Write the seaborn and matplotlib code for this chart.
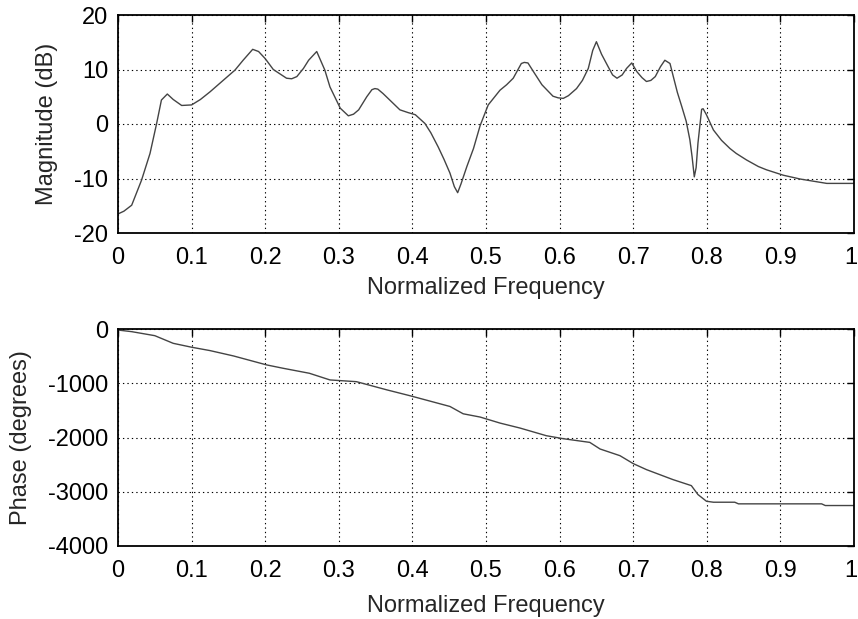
import numpy as np
import pandas as pd
import matplotlib
matplotlib.use("Agg")
import matplotlib.pyplot as plt
import matplotlib.transforms as mtransforms
import seaborn as sns

# ---- data ----
mag_freq = [0.0, 0.008, 0.0186, 0.032, 0.0435, 0.0525, 0.059, 0.067, 0.075, 0.0865, 0.1,
            0.112, 0.125, 0.159, 0.170, 0.183, 0.191, 0.200, 0.211, 0.229, 0.236, 0.243,
            0.252, 0.259, 0.270, 0.281, 0.288, 0.302, 0.313, 0.320, 0.327, 0.338, 0.345,
            0.349, 0.353, 0.360, 0.370, 0.383, 0.394, 0.404, 0.417, 0.425, 0.435, 0.443,
            0.451, 0.457, 0.4615, 0.466, 0.474, 0.483, 0.492, 0.503, 0.519, 0.528, 0.537,
            0.548, 0.552, 0.557, 0.565, 0.576, 0.591, 0.598, 0.605, 0.612, 0.623, 0.631,
            0.639, 0.645, 0.650, 0.657, 0.666, 0.672, 0.678, 0.685, 0.691, 0.698, 0.705,
            0.712, 0.718, 0.724, 0.730, 0.737, 0.743, 0.750, 0.7545, 0.760, 0.766, 0.772,
            0.777, 0.780, 0.783, 0.7855, 0.788, 0.793, 0.795, 0.7995, 0.809, 0.820, 0.8315,
            0.840, 0.854, 0.870, 0.881, 0.904, 0.927, 0.945, 0.963, 0.980, 1.0]
mag_db = [-16.5, -16.0, -14.9, -10.3, -5.4, 0.1, 4.4, 5.5, 4.5, 3.4, 3.5,
          4.5, 5.9, 9.9, 11.7, 13.7, 13.3, 12.0, 10.0, 8.4, 8.3, 8.7,
          10.2, 11.7, 13.3, 9.9, 6.8, 2.9, 1.5, 1.8, 2.6, 5.0, 6.3,
          6.5, 6.4, 5.6, 4.3, 2.6, 2.1, 1.7, 0.1, -1.6, -4.2, -6.5,
          -9.0, -11.5, -12.6, -11.0, -7.8, -4.5, -0.3, 3.5, 6.2, 7.2, 8.4,
          11.1, 11.3, 11.2, 9.5, 7.2, 5.1, 4.8, 4.7, 5.2, 6.5, 8.0,
          10.2, 13.5, 15.1, 12.8, 10.5, 9.0, 8.4, 9.0, 10.2, 11.2, 9.6,
          8.5, 7.8, 8.0, 8.7, 10.5, 11.7, 11.1, 8.7, 5.8, 3.2, 0.5,
          -2.9, -6.0, -9.7, -8.0, -3.5, 2.7, 2.8, 1.7, -1.1, -3.0, -4.5,
          -5.4, -6.6, -7.8, -8.4, -9.4, -10.1, -10.5, -10.9, -10.9, -10.9]

ph_freq = [0.0, 0.0186, 0.05, 0.075, 0.1, 0.125, 0.157, 0.202, 0.224, 0.260,
           0.288, 0.324, 0.365, 0.397, 0.451, 0.469, 0.492, 0.519, 0.546, 0.582,
           0.605, 0.641, 0.655, 0.682, 0.700, 0.718, 0.754, 0.779, 0.788, 0.7995,
           0.809, 0.838, 0.843, 0.956, 0.961, 1.0]
ph_deg = [-19, -49, -123, -264, -336, -398, -497, -662, -723, -816,
          -939, -971, -1121, -1231, -1428, -1563, -1623, -1734, -1825, -1967,
          -2022, -2090, -2212, -2335, -2481, -2592, -2776, -2887, -3052, -3175,
          -3193, -3193, -3223, -3223, -3254, -3254]

xticks = [0, 0.1, 0.2, 0.3, 0.4, 0.5, 0.6, 0.7, 0.8, 0.9, 1]
xticklabels = ["0", "0.1", "0.2", "0.3", "0.4", "0.5", "0.6", "0.7", "0.8", "0.9", "1"]
mag_ticks = [-20, -10, 0, 10, 20]
ph_ticks = [-4000, -3000, -2000, -1000, 0]

sns.set_style("white")
plt.rcParams['font.family'] = ['Liberation Sans', 'DejaVu Sans']
FS = 17

fig = plt.figure(figsize=(8.58, 6.19), dpi=100)
W, H = 858, 619
def axrect(l, t, r, b):
    return [l / W, 1 - b / H, (r - l) / W, (b - t) / H]

ax1 = fig.add_axes(axrect(118, 15, 854, 233))
ax2 = fig.add_axes(axrect(118, 329, 854, 546))

df_mag = pd.DataFrame({"f": mag_freq, "m": mag_db})
df_ph = pd.DataFrame({"f": ph_freq, "p": ph_deg})

sns.lineplot(data=df_mag, x="f", y="m", ax=ax1, color="#444444", linewidth=1.0)
sns.lineplot(data=df_ph, x="f", y="p", ax=ax2, color="#444444", linewidth=1.0)

shift = mtransforms.ScaledTranslation(-3 / 100, 0, fig.dpi_scale_trans)

for ax, yt, ylab, lx, xly in [(ax1, mag_ticks, "Magnitude (dB)", 58, -0.2),
                              (ax2, ph_ticks, "Phase (degrees)", 32, -0.224)]:
    ax.set_xlim(0, 1)
    ax.set_ylim(yt[0], yt[-1])
    ax.set_xticks(xticks)
    ax.set_xticklabels(xticklabels)
    ax.set_yticks(yt)
    ax.set_yticklabels([str(v) for v in yt])
    ax.grid(True, color="black", linestyle=(0, (1.2, 2.8)), linewidth=0.8)
    ax.tick_params(direction="in", length=5, width=1, top=True, right=True,
                   labelsize=FS, colors="black")
    ax.tick_params(axis="y", pad=7)
    ax.tick_params(axis="x", pad=10)
    for s in ax.spines.values():
        s.set_visible(True)
        s.set_color("black")
        s.set_linewidth(1.3)
    ax.set_xlabel("Normalized Frequency", fontsize=FS)
    ax.set_ylabel(ylab, fontsize=FS)
    ax.yaxis.set_label_coords((lx - 118) / 736, 0.5)
    ax.xaxis.set_label_coords(0.5, xly)
    lab = ax.get_xticklabels()[-1]
    lab.set_transform(lab.get_transform() + shift)

fig.savefig("out.png", dpi=100)
